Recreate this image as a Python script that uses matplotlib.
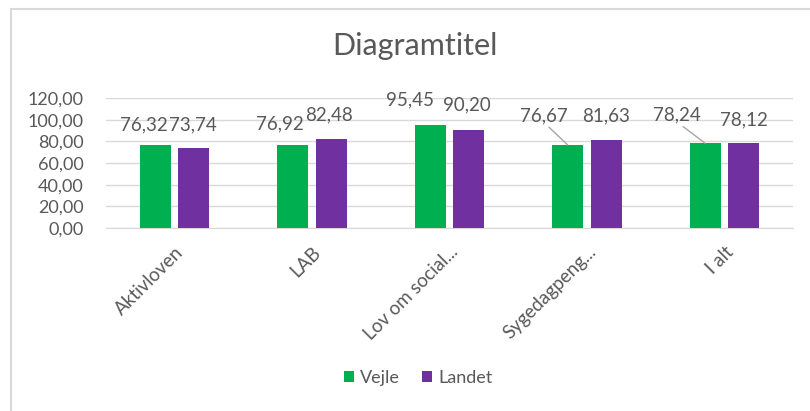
import matplotlib
matplotlib.use("Agg")
import matplotlib.pyplot as plt
from matplotlib.patches import Rectangle
import numpy as np

categories = ["Aktivloven", "LAB", "Lov om social...", "Sygedagpeng...", "I alt"]
vejle = [76.32, 76.92, 95.45, 76.67, 78.24]
landet = [73.74, 82.48, 90.20, 81.63, 78.12]
yticks = [0, 20, 40, 60, 80, 100, 120]

GREEN = "#00B050"
PURPLE = "#7030A0"
TXT = "#595959"
GRID = "#D9D9D9"
FONT = "Lato"

def fmt(v):
    return f"{v:.2f}".replace(".", ",")

fig = plt.figure(figsize=(8.10, 4.11), dpi=100)
ax = fig.add_axes([106/810, 1-228/411, (793-106)/810, 130/411])

x = np.arange(len(categories))
w = 0.225
off = 0.14
bv = ax.bar(x - off, vejle, w, color=GREEN, label="Vejle", zorder=3)
bl = ax.bar(x + off, landet, w, color=PURPLE, label="Landet", zorder=3)

ax.set_xlim(-0.5, len(categories) - 0.5)
ax.set_ylim(0, 120)
ax.set_yticks(yticks)
ax.set_yticklabels([fmt(t) for t in yticks], fontsize=13, color=TXT, family=FONT)
ax.yaxis.grid(True, color=GRID, linewidth=1, zorder=0)
ax.set_axisbelow(True)
for s in ["left", "right", "top"]:
    ax.spines[s].set_visible(False)
ax.spines["bottom"].set_color(GRID)
ax.tick_params(axis="y", length=0, pad=16)
ax.tick_params(axis="x", length=0, pad=11)
ax.set_xticks(x)
ax.set_xticklabels(categories, rotation=45, ha="right", rotation_mode="anchor",
                   fontsize=13.5, color=TXT, family=FONT)

# label offsets in pixels (dx, dy) relative to bar top centre
v_off = [(-12, 20), (-13, 21), (-20, 25), (-24, 29), (-28, 28)]
l_off = [(-1, 23), (-2, 24), (-2, 25), (0, 24), (0, 23)]
v_lead = [False, False, False, True, True]

for i in range(len(categories)):
    xv = x[i] - off
    if v_lead[i]:
        ax.annotate(fmt(vejle[i]), xy=(xv, vejle[i]), xytext=v_off[i], textcoords="offset pixels",
                    ha="center", va="center", fontsize=13.5, color=TXT, family=FONT,
                    arrowprops=dict(arrowstyle="-", color="#A6A6A6", lw=1, shrinkA=0, shrinkB=0,
                                    relpos=(0.55, 0.0)))
    else:
        ax.annotate(fmt(vejle[i]), xy=(xv, vejle[i]), xytext=v_off[i], textcoords="offset pixels",
                    ha="center", va="center", fontsize=13.5, color=TXT, family=FONT)
    xl = x[i] + off
    ax.annotate(fmt(landet[i]), xy=(xl, landet[i]), xytext=l_off[i], textcoords="offset pixels",
                ha="center", va="center", fontsize=13.5, color=TXT, family=FONT)

fig.text(415/810, 1-46/411, "Diagramtitel", ha="center", va="center",
         fontsize=22, color=TXT, family=FONT)

leg = fig.legend(handles=[bv, bl], labels=["Vejle", "Landet"], loc="center",
                 bbox_to_anchor=(418/810, 1-378/411), ncol=2, frameon=False,
                 prop={"family": FONT, "size": 13}, handlelength=0.55, handleheight=0.55,
                 handletextpad=0.35, columnspacing=1.2)
for t in leg.get_texts():
    t.set_color(TXT)

# chart border (left and top visible)
fig.patches.append(Rectangle((11/810, -0.1), 1.2, 1 - 9/411 + 0.1, transform=fig.transFigure,
                             fill=False, edgecolor="#D9D9D9", linewidth=1.5))

fig.savefig("out.png", dpi=100, facecolor="white")
